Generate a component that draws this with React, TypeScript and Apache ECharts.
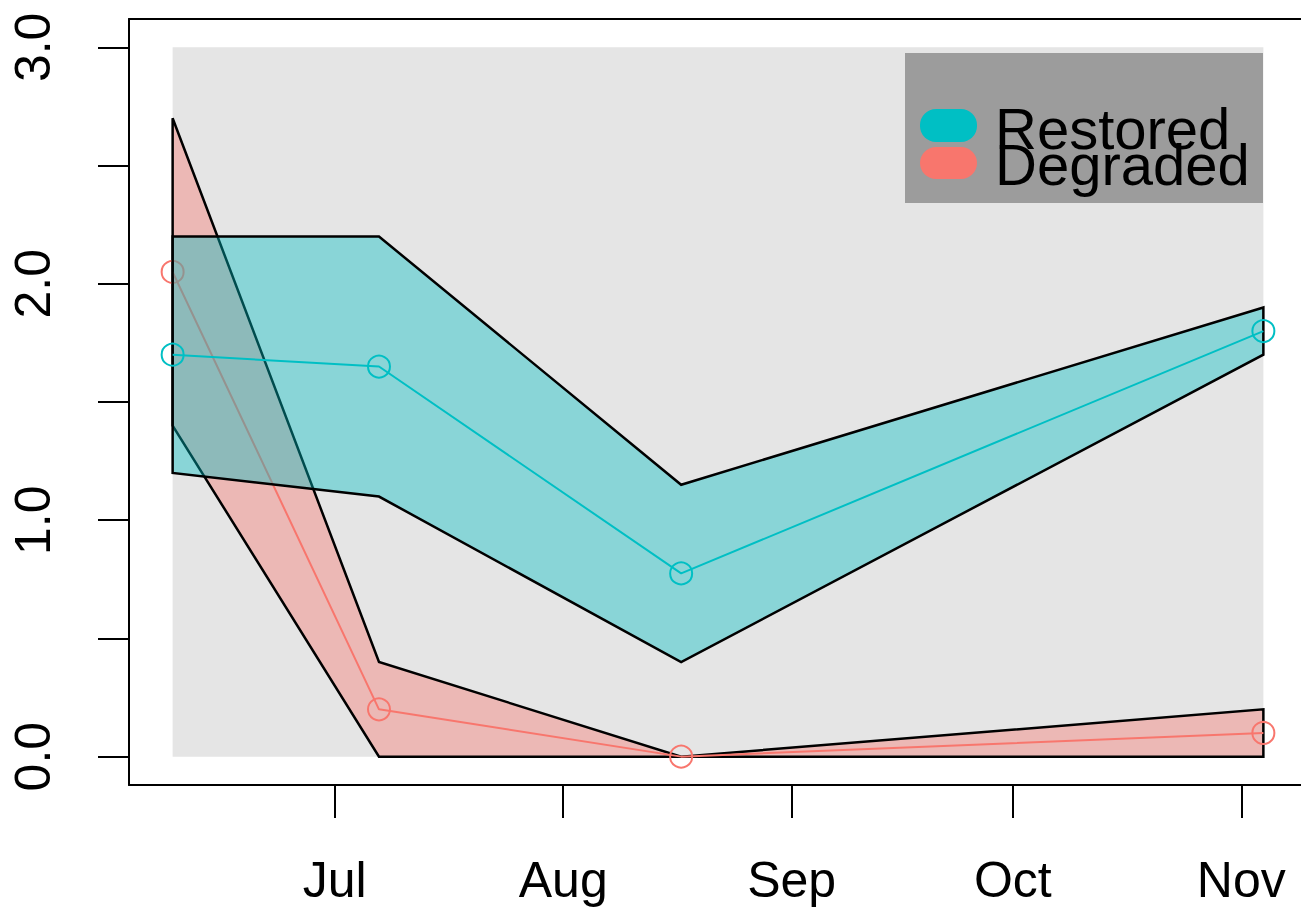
import React, { useEffect, useRef } from "react";
import * as echarts from "echarts";

// Sampling dates as day-of-year (Jun 9, Jul 7, Aug 17, Nov 4)
const sampleDays = [160, 188, 229, 308];

const restoredMean = [1.7, 1.65, 0.775, 1.8];
const restoredUpper = [2.2, 2.2, 1.15, 1.9];
const restoredLower = [1.2, 1.1, 0.4, 1.7];

const degradedMean = [2.05, 0.2, 0.0, 0.1];
const degradedUpper = [2.7, 0.4, 0.0, 0.2];
const degradedLower = [1.4, 0.0, 0.0, 0.0];

// Month tick positions (day-of-year of the 1st) and labels
const monthTicks = [182, 213, 244, 274, 305];
const monthLabels = ["Jul", "Aug", "Sep", "Oct", "Nov"];

const yTicks = [0, 0.5, 1, 1.5, 2, 2.5, 3];
const yLabels = [0, 1, 2, 3];

const legendNames = ["Restored", "Degraded"];

const TEAL = "#00BFC4";
const SALMON = "#F8766D";
const FONT = "'Liberation Sans', Arial, Helvetica, sans-serif";

function bandSeries(
  xs: number[],
  upper: number[],
  lower: number[],
  fill: string,
  stroke: string | null,
  z: number
) {
  const pts: number[][] = [
    ...xs.map((x, i) => [x, upper[i]]),
    ...xs.map((x, i) => [x, lower[i]]).reverse(),
  ];
  return {
    type: "custom",
    z,
    silent: true,
    data: pts,
    encode: { x: 0, y: 1 },
    renderItem: (params: any, api: any) => {
      if (params.dataIndex !== 0) return null;
      return {
        type: "polygon",
        shape: { points: pts.map((p) => api.coord(p)) },
        style: {
          fill,
          stroke: stroke || "none",
          lineWidth: stroke ? 2.5 : 0,
          lineJoin: "miter",
        },
      };
    },
  };
}

function meanSeries(xs: number[], ys: number[], color: string, z: number) {
  return {
    type: "line",
    z,
    silent: true,
    clip: false,
    data: xs.map((x, i) => [x, ys[i]]),
    symbol: "circle",
    symbolSize: 22,
    showAllSymbol: true,
    itemStyle: { color: "rgba(0,0,0,0)", borderColor: color, borderWidth: 2 },
    lineStyle: { color, width: 2 },
  };
}

export default function App() {
  const ref = useRef<HTMLDivElement>(null);

  useEffect(() => {
    if (!ref.current) return;
    const chart = echarts.init(ref.current, null, { renderer: "svg" });
    const xMin = 154.08;
    const xMax = 313.92;
    const boxLine = { show: true, onZero: false, lineStyle: { color: "#000", width: 2 } };
    const option: any = {
      animation: false,
      backgroundColor: "#ffffff",
      grid: {
        left: 129,
        top: 19,
        width: 1178,
        height: 766,
        show: false,
        containLabel: false,
        outerBoundsMode: "none",
      },
      xAxis: [
        {
          type: "value",
          min: xMin,
          max: xMax,
          position: "bottom",
          axisLine: boxLine,
          splitLine: { show: false },
          axisTick: {
            show: true,
            customValues: monthTicks,
            length: 33,
            lineStyle: { color: "#000", width: 2 },
          },
          axisLabel: {
            customValues: monthTicks,
            formatter: (v: number) => {
              const i = monthTicks.indexOf(Math.round(v));
              return i >= 0 ? monthLabels[i] : "";
            },
            fontSize: 50,
            fontFamily: FONT,
            color: "#000",
            margin: 70,
          },
        },
        {
          type: "value",
          min: xMin,
          max: xMax,
          position: "top",
          axisLine: boxLine,
          splitLine: { show: false },
          axisTick: { show: false },
          axisLabel: { show: false },
        },
      ],
      yAxis: {
        type: "value",
        min: -0.12,
        max: 3.12,
        position: "left",
        axisLine: boxLine,
        splitLine: { show: false },
        axisTick: {
          show: true,
          customValues: yTicks,
          length: 31,
          lineStyle: { color: "#000", width: 2 },
        },
        axisLabel: {
          customValues: yLabels,
          formatter: (v: number) => v.toFixed(1),
          rotate: 90,
          fontSize: 50,
          fontFamily: FONT,
          color: "#000",
          margin: 71,
        },
      },
      series: [
        bandSeries([sampleDays[0], sampleDays[sampleDays.length - 1]], [3, 3], [0, 0], "#e5e5e5", null, 1),
        bandSeries(sampleDays, degradedUpper, degradedLower, "rgba(248,118,109,0.4)", "#000", 2),
        meanSeries(sampleDays, degradedMean, SALMON, 3),
        bandSeries(sampleDays, restoredUpper, restoredLower, "rgba(0,191,196,0.4)", "#000", 4),
        meanSeries(sampleDays, restoredMean, TEAL, 5),
      ],
      graphic: [
        {
          type: "rect",
          z: 100,
          shape: { x: 905, y: 53, width: 358, height: 150 },
          style: { fill: "#9c9c9c" },
        },
        {
          type: "rect",
          z: 101,
          shape: { x: 920, y: 109, width: 57, height: 33, r: 16 },
          style: { fill: TEAL },
        },
        {
          type: "rect",
          z: 101,
          shape: { x: 920, y: 147, width: 57, height: 32, r: 16 },
          style: { fill: SALMON },
        },
        {
          type: "text",
          z: 102,
          x: 995,
          y: 128,
          style: {
            text: legendNames[0],
            fill: "#000",
            fontSize: 58,
            fontFamily: FONT,
            align: "left",
            verticalAlign: "middle",
          },
        },
        {
          type: "text",
          z: 102,
          x: 995,
          y: 164,
          style: {
            text: legendNames[1],
            fill: "#000",
            fontSize: 58,
            fontFamily: FONT,
            align: "left",
            verticalAlign: "middle",
          },
        },
      ],
    };
    chart.setOption(option);
    return () => chart.dispose();
  }, []);

  return (
    <div
      ref={ref}
      style={{ position: "absolute", left: 0, top: 0, width: 1301, height: 913 }}
    />
  );
}
